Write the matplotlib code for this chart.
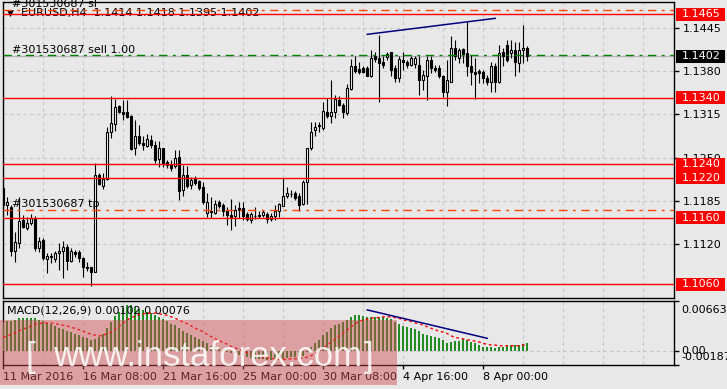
import matplotlib
matplotlib.use('Agg')
import matplotlib.pyplot as plt
import numpy as np
from matplotlib.patches import Rectangle

# EURUSD H4 candles, 11 Mar 2016 -> 8 Apr 2016
opens = [1.1205, 1.1179, 1.1176, 1.1110, 1.1122, 1.1157, 1.1145, 1.1152, 1.1160, 1.1115,
         1.1127, 1.1098, 1.1101, 1.1098, 1.1107, 1.1110, 1.1116, 1.1095, 1.1109, 1.1109,
         1.1100, 1.1086, 1.1086, 1.1079, 1.1224, 1.1208, 1.1218, 1.1288, 1.1301, 1.1328,
         1.1319, 1.1319, 1.1313, 1.1265, 1.1283, 1.1272, 1.1268, 1.1277, 1.1269, 1.1248,
         1.1265, 1.1243, 1.1240, 1.1237, 1.1251, 1.1201, 1.1224, 1.1209, 1.1218, 1.1215,
         1.1206, 1.1167, 1.1170, 1.1167, 1.1183, 1.1179, 1.1170, 1.1164, 1.1163, 1.1175,
         1.1175, 1.1166, 1.1157, 1.1162, 1.1164, 1.1164, 1.1165, 1.1158, 1.1162, 1.1170,
         1.1178, 1.1193, 1.1195, 1.1197, 1.1192, 1.1181, 1.1214, 1.1264, 1.1291, 1.1298,
         1.1295, 1.1319, 1.1313, 1.1319, 1.1337, 1.1329, 1.1317, 1.1353, 1.1388, 1.1383,
         1.1384, 1.1384, 1.1372, 1.1402, 1.1400, 1.1394, 1.1401, 1.1408, 1.1384, 1.1369,
         1.1397, 1.1394, 1.1389, 1.1390, 1.1389, 1.1367, 1.1372, 1.1397, 1.1385, 1.1384,
         1.1372, 1.1348, 1.1364, 1.1414, 1.1399, 1.1413, 1.1407, 1.1387, 1.1379, 1.1380,
         1.1378, 1.1369, 1.1363, 1.1387, 1.1363, 1.1409, 1.1419, 1.1407, 1.1412, 1.1392,
         1.1412, 1.1414]
highs = [1.1209, 1.1191, 1.1179, 1.1139, 1.1191, 1.1164, 1.1161, 1.1166, 1.1163, 1.1131,
         1.1130, 1.1107, 1.1107, 1.1110, 1.1122, 1.1125, 1.1121, 1.1115, 1.1112, 1.1112,
         1.1101, 1.1094, 1.1086, 1.1242, 1.1227, 1.1227, 1.1296, 1.1343, 1.1338, 1.1329,
         1.1337, 1.1337, 1.1314, 1.1307, 1.1299, 1.1283, 1.1286, 1.1284, 1.1275, 1.1275,
         1.1265, 1.1247, 1.1247, 1.1262, 1.1262, 1.1239, 1.1237, 1.1221, 1.1223, 1.1217,
         1.1214, 1.1197, 1.1191, 1.1187, 1.1187, 1.1182, 1.1176, 1.1188, 1.1179, 1.1184,
         1.1184, 1.1169, 1.1169, 1.1176, 1.1170, 1.1172, 1.1169, 1.1167, 1.1179, 1.1182,
         1.1220, 1.1206, 1.1202, 1.1200, 1.1197, 1.1216, 1.1265, 1.1304, 1.1304, 1.1304,
         1.1334, 1.1340, 1.1367, 1.1344, 1.1343, 1.1332, 1.1361, 1.1398, 1.1402, 1.1394,
         1.1388, 1.1388, 1.1412, 1.1409, 1.1434, 1.1402, 1.1409, 1.1409, 1.1389, 1.1402,
         1.1409, 1.1397, 1.1403, 1.1403, 1.1402, 1.1382, 1.1402, 1.1402, 1.1389, 1.1389,
         1.1374, 1.1397, 1.1433, 1.1426, 1.1414, 1.1415, 1.1454, 1.1404, 1.1399, 1.1383,
         1.1381, 1.1374, 1.1394, 1.1392, 1.1419, 1.1414, 1.1427, 1.1427, 1.1424, 1.1424,
         1.1449, 1.1418]
lows = [1.1172, 1.1164, 1.1103, 1.1094, 1.1115, 1.1145, 1.1142, 1.1149, 1.1110, 1.1109,
        1.1097, 1.1077, 1.1092, 1.1094, 1.1082, 1.1070, 1.1082, 1.1094, 1.1101, 1.1094,
        1.1071, 1.1080, 1.1058, 1.1078, 1.1209, 1.1203, 1.1217, 1.1280, 1.1290, 1.1317,
        1.1307, 1.1310, 1.1262, 1.1254, 1.1269, 1.1262, 1.1266, 1.1265, 1.1242, 1.1236,
        1.1236, 1.1235, 1.1230, 1.1235, 1.1187, 1.1193, 1.1205, 1.1203, 1.1209, 1.1202,
        1.1181, 1.1161, 1.1160, 1.1166, 1.1175, 1.1163, 1.1149, 1.1142, 1.1148, 1.1160,
        1.1157, 1.1155, 1.1152, 1.1158, 1.1160, 1.1161, 1.1152, 1.1155, 1.1157, 1.1161,
        1.1177, 1.1190, 1.1191, 1.1187, 1.1170, 1.1179, 1.1180, 1.1262, 1.1283, 1.1289,
        1.1292, 1.1309, 1.1302, 1.1310, 1.1327, 1.1310, 1.1314, 1.1352, 1.1377, 1.1376,
        1.1377, 1.1372, 1.1371, 1.1394, 1.1334, 1.1384, 1.1397, 1.1372, 1.1364, 1.1364,
        1.1382, 1.1384, 1.1387, 1.1384, 1.1344, 1.1352, 1.1337, 1.1377, 1.1379, 1.1369,
        1.1341, 1.1327, 1.1363, 1.1397, 1.1392, 1.1392, 1.1372, 1.1359, 1.1338, 1.1362,
        1.1362, 1.1359, 1.1348, 1.1349, 1.1362, 1.1387, 1.1393, 1.1399, 1.1372, 1.1379,
        1.1392, 1.1395]
closes = [1.1179, 1.1184, 1.1110, 1.1124, 1.1155, 1.1146, 1.1152, 1.1160, 1.1115, 1.1125,
          1.1100, 1.1103, 1.1103, 1.1107, 1.1110, 1.1116, 1.1095, 1.1110, 1.1106, 1.1100,
          1.1086, 1.1085, 1.1078, 1.1224, 1.1211, 1.1218, 1.1289, 1.1302, 1.1326, 1.1318,
          1.1316, 1.1311, 1.1263, 1.1283, 1.1272, 1.1269, 1.1278, 1.1269, 1.1247, 1.1264,
          1.1241, 1.1239, 1.1235, 1.1249, 1.1200, 1.1224, 1.1208, 1.1217, 1.1212, 1.1205,
          1.1184, 1.1184, 1.1168, 1.1181, 1.1178, 1.1170, 1.1164, 1.1161, 1.1172, 1.1172,
          1.1163, 1.1158, 1.1166, 1.1163, 1.1163, 1.1168, 1.1158, 1.1163, 1.1170, 1.1181,
          1.1193, 1.1197, 1.1196, 1.1189, 1.1179, 1.1214, 1.1264, 1.1289, 1.1296, 1.1299,
          1.1320, 1.1312, 1.1318, 1.1338, 1.1329, 1.1318, 1.1355, 1.1388, 1.1380, 1.1379,
          1.1379, 1.1373, 1.1399, 1.1398, 1.1392, 1.1389, 1.1406, 1.1382, 1.1369, 1.1398,
          1.1394, 1.1389, 1.1400, 1.1400, 1.1366, 1.1374, 1.1397, 1.1384, 1.1382, 1.1372,
          1.1348, 1.1367, 1.1414, 1.1402, 1.1412, 1.1405, 1.1387, 1.1378, 1.1375, 1.1377,
          1.1369, 1.1364, 1.1388, 1.1363, 1.1407, 1.1402, 1.1396, 1.1412, 1.1394, 1.1411,
          1.1415, 1.1402]

# MACD(12,26,9): main line (histogram) and signal line
macd_main = [0.0037, 0.0039, 0.0040, 0.0041, 0.0043, 0.0044, 0.0044, 0.0044, 0.0043, 0.0041,
             0.0039, 0.0037, 0.0035, 0.0033, 0.0031, 0.0029, 0.0027, 0.0025, 0.0023, 0.0021,
             0.0019, 0.0017, 0.0014, 0.0016, 0.0019, 0.0022, 0.0030, 0.0038, 0.0046, 0.0052,
             0.0057, 0.0061, 0.0060, 0.0058, 0.0056, 0.0054, 0.0052, 0.0050, 0.0047, 0.0045,
             0.0042, 0.0039, 0.0036, 0.0034, 0.0030, 0.0027, 0.0024, 0.0021, 0.0019, 0.0016,
             0.0013, 0.0010, 0.0007, 0.0005, 0.0003, 0.0001, -0.0001, -0.0003, -0.0004, -0.0005,
             -0.0007, -0.0008, -0.0009, -0.0010, -0.0011, -0.0011, -0.0012, -0.0012, -0.0012, -0.0011,
             -0.0010, -0.0009, -0.0008, -0.0008, -0.0008, -0.0006, -0.0001, 0.0005, 0.0010, 0.0015,
             0.0021, 0.0025, 0.0030, 0.0034, 0.0036, 0.0038, 0.0041, 0.0045, 0.0047, 0.0047,
             0.00467, 0.00454, 0.00450, 0.00454, 0.00454, 0.00454, 0.00432, 0.00423, 0.00388, 0.00353,
             0.00335, 0.00322, 0.00309, 0.00287, 0.00265, 0.00221, 0.00212, 0.00198, 0.00181, 0.00168,
             0.00146, 0.00110, 0.00123, 0.00137, 0.00137, 0.00154, 0.00146, 0.00123, 0.00101, 0.00079,
             0.00057, 0.00049, 0.00049, 0.00044, 0.00057, 0.00057, 0.00066, 0.00075, 0.00080, 0.00086,
             0.00094, 0.00102]
macd_signal = [0.0018, 0.0020, 0.0022, 0.0024, 0.0027, 0.0029, 0.0031, 0.0033, 0.0035, 0.0036,
               0.0037, 0.0037, 0.0037, 0.0036, 0.0035, 0.0034, 0.0033, 0.0031, 0.0030, 0.0028,
               0.0026, 0.0024, 0.0022, 0.0021, 0.0020, 0.0021, 0.0023, 0.0025, 0.0029, 0.0033,
               0.0037, 0.0041, 0.0044, 0.0046, 0.0048, 0.0049, 0.0050, 0.0050, 0.0050, 0.0049,
               0.0048, 0.0047, 0.0045, 0.0043, 0.0041, 0.0038, 0.0036, 0.0033, 0.0030, 0.0028,
               0.0025, 0.0022, 0.0019, 0.0016, 0.0014, 0.0011, 0.0009, 0.0006, 0.0004, 0.0002,
               0.0000, -0.0002, -0.0004, -0.0005, -0.0007, -0.0008, -0.0009, -0.0010, -0.0010, -0.0011,
               -0.0011, -0.0011, -0.0010, -0.0010, -0.0010, -0.0009, -0.0008, -0.0006, -0.0003, 0.0000,
               0.0004, 0.0008, 0.0012, 0.0016, 0.0020, 0.0024, 0.0028, 0.0032, 0.0036, 0.0039,
               0.0041, 0.0042, 0.0043, 0.0044, 0.0044, 0.0045, 0.0045, 0.0045, 0.0044, 0.0043,
               0.0041, 0.0040, 0.0039, 0.0037, 0.0036, 0.0034, 0.0032, 0.0030, 0.0028, 0.0026,
               0.0025, 0.0023, 0.0020, 0.0018, 0.0017, 0.0016, 0.0015, 0.0014, 0.0013, 0.0012,
               0.0010, 0.0009, 0.0008, 0.0008, 0.0007, 0.0007, 0.0007, 0.0007, 0.0007, 0.0007,
               0.0008, 0.00076]

# horizontal levels and order lines
levels = [1.1465, 1.1340, 1.1240, 1.1220, 1.1160, 1.1060]
order_price = 1.1402
bid_price = 1.1402
sl_price = 1.1472
tp_price = 1.1172
price_ticks = [1.1445, 1.1380, 1.1315, 1.1250, 1.1185, 1.1120]

# trend lines (bar index, value)
trend_bars = [91, 123]
trend_prices = [1.1435, 1.1459]
macd_trend_bars = [91, 121]
macd_trend_values = [0.00542, 0.00168]

date_ticks = [0, 20, 40, 60, 80, 100, 120]
date_labels = ['11 Mar 2016', '16 Mar 08:00', '21 Mar 16:00', '25 Mar 00:00',
               '30 Mar 08:00', '4 Apr 16:00', '8 Apr 00:00']

BG = '#e8e8e8'
GRID = '#c6c6c6'
W, H = 727, 389

o = np.array(opens)
h = np.array(highs)
l = np.array(lows)
c = np.array(closes)
bars = np.arange(len(c))

fig = plt.figure(figsize=(W / 100, H / 100), dpi=100)
fig.patch.set_facecolor(BG)


def px_axes(left, top, right, bottom):
    return fig.add_axes([left / W, 1 - bottom / H, (right - left) / W, (bottom - top) / H])


ax = px_axes(2.7, 2, 674, 298)
ax2 = px_axes(2.7, 300.7, 674, 365.3)
for a in (ax, ax2):
    a.set_facecolor(BG)
    a.set_xlim(-0.15, 167.7)
    for s in a.spines.values():
        s.set_linewidth(1.0)
    for v in range(10, 170, 10):
        a.axvline(v, color=GRID, lw=0.8, ls=(0, (3, 3)), zorder=0)

# ---- price panel ----
ax.set_ylim(1.10395, 1.14835)
ax.yaxis.tick_right()
ax.set_yticks(price_ticks)
ax.set_yticklabels([f'{t:.4f}' for t in price_ticks], fontsize=8)
ax.tick_params(axis='y', length=3.5, width=1, pad=2.5)
ax.tick_params(axis='x', bottom=False, labelbottom=False)
for t in price_ticks:
    ax.axhline(t, color=GRID, lw=0.8, ls=(0, (3, 3)), zorder=0)

up = c >= o
ax.vlines(bars, l, h, color='black', lw=0.8, zorder=3)
ax.bar(bars, np.abs(c - o), bottom=np.minimum(o, c), width=0.6,
       color=np.where(up, 'white', 'black'), edgecolor='black', linewidth=0.8, zorder=4)

for lv in levels:
    ax.axhline(lv, color='#ff0000', lw=1.0, zorder=5)
ax.axhline(bid_price, color='#b8b8b8', lw=1.0, zorder=2)
ax.axhline(order_price + 0.00015, color='#008000', lw=1.0, ls=(0, (6, 4, 2, 4)), zorder=5)
ax.axhline(sl_price, color='#ff4500', lw=1.0, ls=(0, (6, 4, 2, 4)), zorder=5)
ax.axhline(tp_price, color='#ff4500', lw=1.0, ls=(0, (6, 4, 2, 4)), zorder=5)
ax.plot(trend_bars, trend_prices, color='#000080', lw=1.1, zorder=6)

ytr = ax.get_yaxis_transform()
ax.text(0.0134, sl_price + 0.0004, '#301530687 sl', fontsize=8, transform=ytr, va='baseline', zorder=7)
ax.text(0.0134, order_price + 0.00045, '#301530687 sell 1.00', fontsize=8, transform=ytr, va='baseline', zorder=7)
ax.text(0.0134, tp_price + 0.0004, '#301530687 tp', fontsize=8, transform=ytr, va='baseline', zorder=7)
ax.text(0.0062, 0.963, '\u25bc', fontsize=6.5, transform=ax.transAxes, va='center', zorder=1)
ax.text(0.027, 0.963, 'EURUSD,H4  1.1414 1.1418 1.1395 1.1402', fontsize=8,
        transform=ax.transAxes, va='center', zorder=1)

# price boxes on the right scale
box_w = 49 / 671.3
for lv, fc in [(lv, '#ff0000') for lv in levels] + [(bid_price, 'black')]:
    ax.add_patch(Rectangle((1.0027, lv - 0.00097), box_w, 0.00194, transform=ytr,
                           facecolor=fc, edgecolor='none', clip_on=False, zorder=8))
    ax.text(1.0115, lv, f'{lv:.4f}', color='white', fontsize=8, transform=ytr,
            va='center', ha='left', clip_on=False, zorder=9)

# ---- MACD panel ----
ax2.set_ylim(-0.00187, 0.00663)
ax2.axhline(0, color=GRID, lw=0.8, ls=(0, (3, 3)), zorder=0)
ax2.vlines(bars, 0, macd_main, color='#1f8a1f', lw=1.4, zorder=3)
ax2.plot(bars, macd_signal, color='#ff0000', lw=1.0, ls=(0, (2, 2)), zorder=4)
ax2.plot(macd_trend_bars, macd_trend_values, color='#000080', lw=1.1, zorder=5)
ax2.text(0.006, 0.85, 'MACD(12,26,9) 0.00102 0.00076', fontsize=8, transform=ax2.transAxes, va='center')

ax2.yaxis.tick_right()
ax2.set_yticks([-0.00187, 0, 0.00663])
ax2.set_yticklabels([])
ax2.tick_params(axis='y', length=3.5, width=1)
ax2.text(1.0115, 0.856, '0.00663', fontsize=8, transform=ax2.transAxes, va='center', clip_on=False)
ax2.text(1.0115, 0.0, '0.00', fontsize=8, transform=ax2.get_yaxis_transform(), va='center', clip_on=False)
ax2.text(1.0115, 0.128, '-0.00187', fontsize=8, transform=ax2.transAxes, va='center', clip_on=False)

ax2.set_xticks(date_ticks)
ax2.set_xticklabels(date_labels, fontsize=8, ha='left')
ax2.tick_params(axis='x', length=3, width=1, pad=2)

# instaforex watermark band
fig.add_artist(Rectangle((0, 1 - 385 / H), 397 / W, 65 / H, transform=fig.transFigure,
                         facecolor='#cf4a4e', alpha=0.45, edgecolor='none', zorder=20))
fig.text(25 / W, 1 - 367 / H, '[', fontsize=25, color='white', alpha=0.85,
         family='Liberation Sans', va='baseline', zorder=21)
fig.text(53 / W, 1 - 366 / H, 'www.instaforex.com', fontsize=25, color='white', alpha=0.85,
         family='Liberation Sans', va='baseline', zorder=21)
fig.text(364 / W, 1 - 367 / H, ']', fontsize=25, color='white', alpha=0.85,
         family='Liberation Sans', va='baseline', zorder=21)

fig.savefig('out.png', dpi=100, facecolor=BG)
